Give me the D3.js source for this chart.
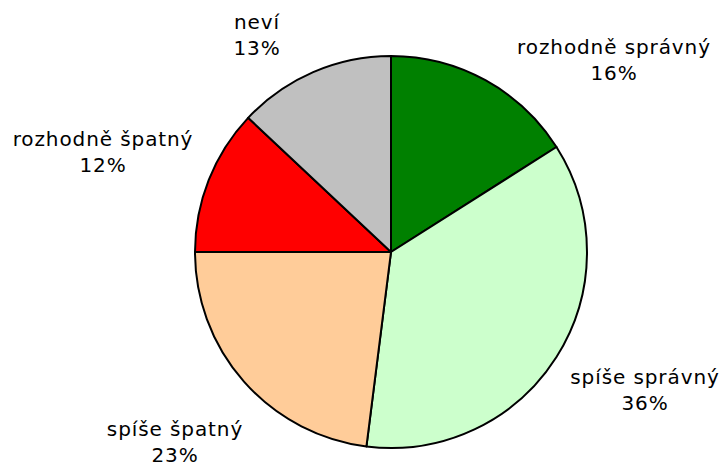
<!DOCTYPE html>
<html><head><meta charset="utf-8">
<script src="https://cdn.jsdelivr.net/npm/d3@7"></script>
<style>body{margin:0;background:#fff}svg{display:block}</style>
</head><body>
<svg id="c" width="721" height="463"></svg>
<script>
const categories = ["rozhodně správný","spíše správný","spíše špatný","rozhodně špatný","neví"];
const values = [16,36,23,12,13];
const colors = ["#008000","#CCFFCC","#FFCC99","#FF0000","#C0C0C0"];
// label centre positions (layout only)
const labelPos = [[614,60],[645,390],[175,442],[103,152],[257,35]];

const svg = d3.select("#c");
const cx = 391, cy = 252, r = 196;
const pie = d3.pie().sort(null).value(d=>d)(values);
const arc = d3.arc().innerRadius(0).outerRadius(r);
const g = svg.append("g").attr("transform",`translate(${cx},${cy})`);
g.selectAll("path").data(pie).join("path")
  .attr("d",arc).attr("fill",(d,i)=>colors[i])
  .attr("stroke","#000").attr("stroke-width",2).attr("stroke-linejoin","round");
const total = d3.sum(values);
const lab = svg.selectAll("text.l").data(categories).join("text").attr("class","l")
  .attr("text-anchor","middle")
  .attr("font-family","'DejaVu Sans', Verdana, sans-serif")
  .attr("font-size",20).attr("letter-spacing",0.9).attr("fill","#000");
lab.each(function(d,i){
  const t = d3.select(this);
  const [x,y] = labelPos[i];
  t.append("tspan").attr("x",x).attr("y",y-6).text(d);
  t.append("tspan").attr("x",x).attr("y",y+20).text(Math.round(values[i]/total*100)+"%");
});
</script>
</body></html>
